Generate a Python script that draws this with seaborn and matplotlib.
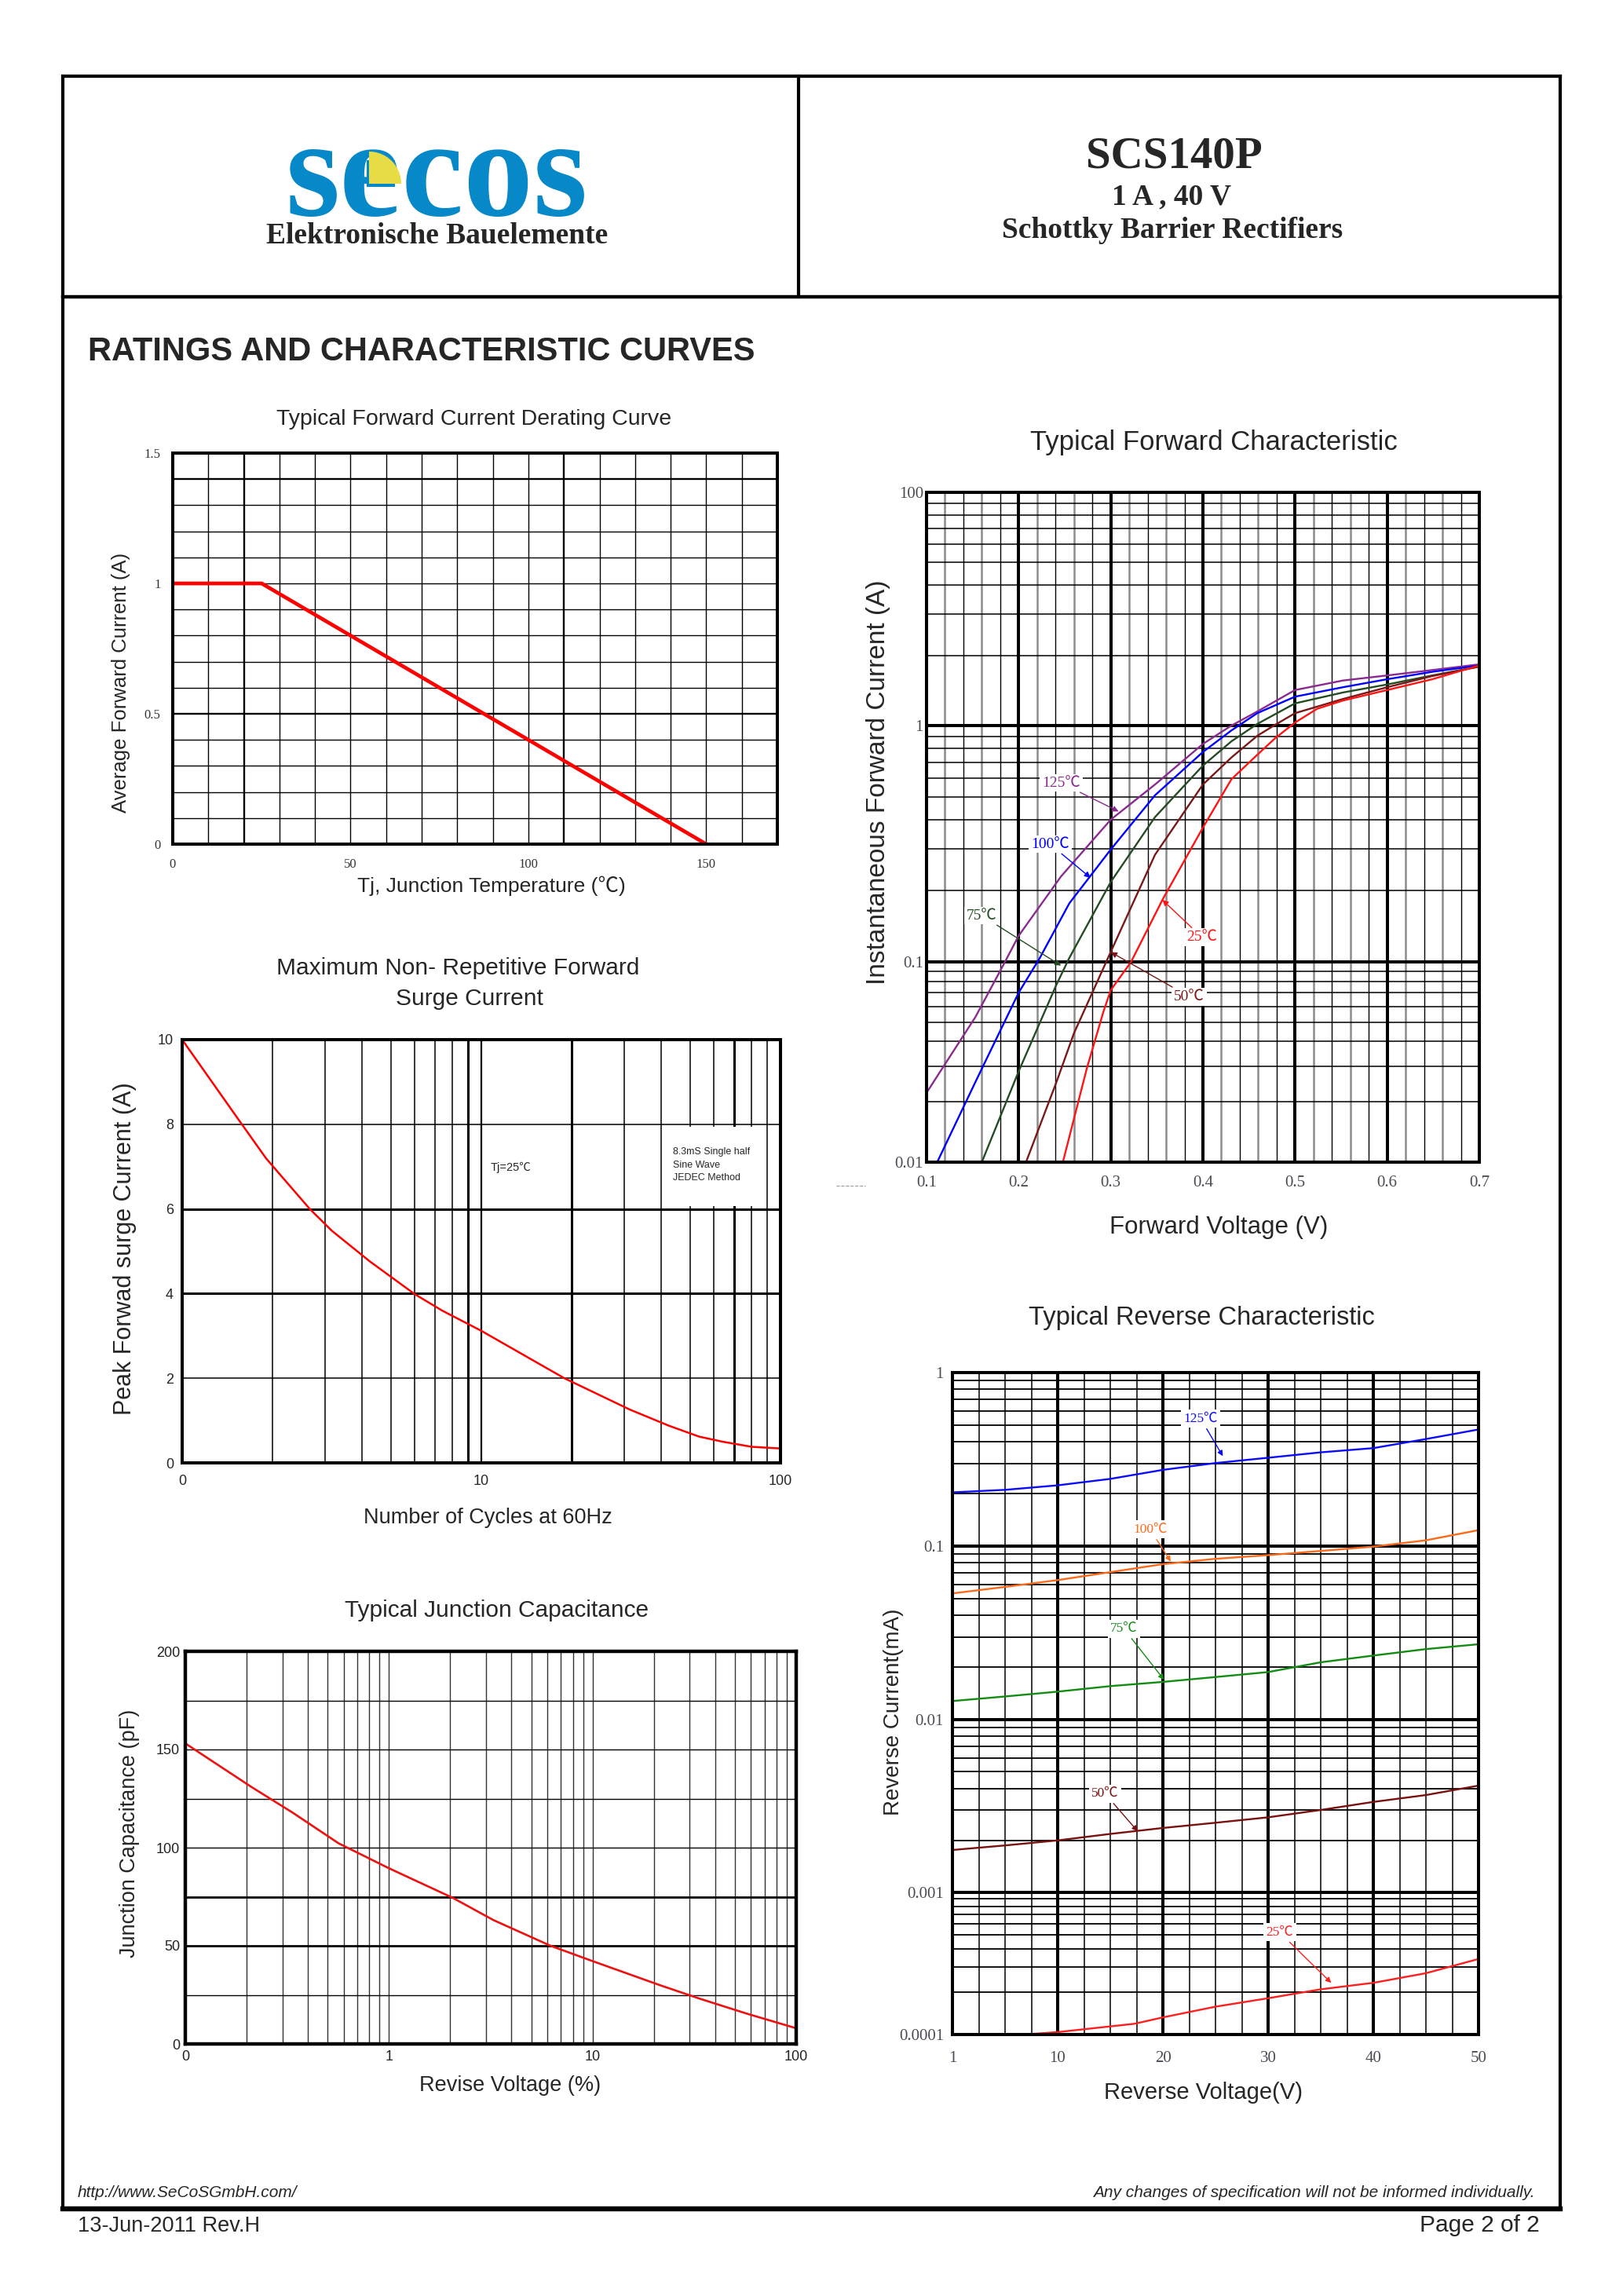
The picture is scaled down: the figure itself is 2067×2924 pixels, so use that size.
import numpy as np
import pandas as pd
import seaborn as sns
import matplotlib.pyplot as plt
from matplotlib.lines import Line2D
from matplotlib.patches import Rectangle, Wedge
from matplotlib.ticker import NullLocator, NullFormatter

# ---- data ----
derate_temp = [0, 25, 150]
derate_current = [1.0, 1.0, 0.0]

surge_cycles = [1.0, 1.54, 1.91, 2.67, 3.17, 4.24, 5.98, 7.39, 10.0, 18.95, 31.35, 42.3, 53.5, 64.1, 80.1, 100.0]
surge_current = [10.0, 8.12, 7.19, 6.0, 5.48, 4.76, 3.99, 3.6, 3.12, 2.0, 1.26, 0.88, 0.62, 0.5, 0.38, 0.34]

cap_voltage = [0.1, 0.212, 0.337, 0.566, 1.0, 2.06, 3.26, 6.22, 10.0, 21.2, 33.5, 57.8, 100.0]
cap_pf = [153.1, 130.8, 117.8, 102.2, 89.5, 74.4, 63.1, 50.0, 42.2, 30.1, 23.1, 15.3, 8.0]

fwd_v_125 = [0.100, 0.153, 0.183, 0.200, 0.246, 0.300, 0.348, 0.400, 0.431, 0.459, 0.500, 0.552, 0.600, 0.649, 0.700]
fwd_i_125 = [0.0222, 0.053, 0.0958, 0.129, 0.230, 0.40, 0.563, 0.836, 1.0, 1.149, 1.42, 1.56, 1.64, 1.73, 1.83]
fwd_v_100 = [0.1116, 0.153, 0.200, 0.223, 0.255, 0.300, 0.348, 0.400, 0.431, 0.459, 0.500, 0.552, 0.600, 0.649, 0.700]
fwd_i_100 = [0.01, 0.0251, 0.0702, 0.104, 0.177, 0.299, 0.507, 0.773, 0.954, 1.13, 1.33, 1.46, 1.58, 1.70, 1.81]
fwd_v_75 = [0.160, 0.200, 0.241, 0.255, 0.300, 0.348, 0.400, 0.431, 0.459, 0.500, 0.552, 0.600, 0.649, 0.700]
fwd_i_75 = [0.01, 0.0284, 0.077, 0.104, 0.218, 0.41, 0.677, 0.858, 1.016, 1.245, 1.386, 1.50, 1.64, 1.79]
fwd_v_50 = [0.208, 0.241, 0.260, 0.297, 0.348, 0.400, 0.431, 0.459, 0.478, 0.500, 0.552, 0.600, 0.649, 0.700]
fwd_i_50 = [0.01, 0.0251, 0.044, 0.104, 0.284, 0.563, 0.733, 0.905, 1.005, 1.13, 1.30, 1.46, 1.63, 1.79]
fwd_v_25 = [0.248, 0.274, 0.292, 0.300, 0.322, 0.357, 0.400, 0.431, 0.459, 0.478, 0.500, 0.524, 0.552, 0.600, 0.649, 0.700]
fwd_i_25 = [0.01, 0.0294, 0.0564, 0.0723, 0.1, 0.186, 0.37, 0.593, 0.752, 0.881, 1.03, 1.18, 1.28, 1.42, 1.58, 1.81]

rev_v = [0, 5, 10, 15, 20, 25, 30, 35, 40, 45, 50]
rev_i_125 = [0.204, 0.211, 0.224, 0.244, 0.275, 0.301, 0.323, 0.347, 0.367, 0.414, 0.47]
rev_i_100 = [0.0534, 0.0582, 0.0637, 0.0708, 0.0787, 0.0845, 0.0887, 0.0938, 0.0993, 0.108, 0.1236]
rev_i_75 = [0.0128, 0.0136, 0.0145, 0.0156, 0.0165, 0.0176, 0.0188, 0.0214, 0.0234, 0.0255, 0.0272]
rev_i_50 = [0.00176, 0.00187, 0.0020, 0.00218, 0.00236, 0.00253, 0.00272, 0.0030, 0.00334, 0.00366, 0.00415]
rev_v_25 = [6.8, 10, 17.3, 20, 25, 30, 35, 40, 45, 50]
rev_i_25 = [0.0001, 0.000104, 0.000119, 0.000132, 0.000157, 0.00018, 0.000208, 0.000231, 0.00027, 0.00034]

temps = ['125℃', '100℃', '75℃', '50℃', '25℃']

derate_xticks = [0, 50, 100, 150]
derate_yticks = [0, 0.5, 1, 1.5]
derate_ylabels = ['0', '0.5', '1', '1.5']
surge_xticks = [1, 10, 100]
surge_xlabels = ['0', '10', '100']
surge_yticks = [0, 2, 4, 6, 8, 10]
cap_xticks = [0.1, 1, 10, 100]
cap_xlabels = ['0', '1', '10', '100']
cap_yticks = [0, 50, 100, 150, 200]
fwd_xticks = [0.1, 0.2, 0.3, 0.4, 0.5, 0.6, 0.7]
fwd_yticks = [0.01, 0.1, 1, 10]
fwd_ylabels = ['0.01', '0.1', '1', '100']
rev_xticks = [0, 10, 20, 30, 40, 50]
rev_xlabels = ['1', '10', '20', '30', '40', '50']
rev_yticks = [0.0001, 0.001, 0.01, 0.1, 1]
rev_ylabels = ['0.0001', '0.001', '0.01', '0.1', '1']

fwd_df = pd.concat([
    pd.DataFrame({'V': v, 'I': i, 'T': t})
    for v, i, t in zip([fwd_v_125, fwd_v_100, fwd_v_75, fwd_v_50, fwd_v_25],
                       [fwd_i_125, fwd_i_100, fwd_i_75, fwd_i_50, fwd_i_25], temps)
])
rev_df = pd.concat([
    pd.DataFrame({'V': v, 'I': i, 'T': t})
    for v, i, t in zip([rev_v, rev_v, rev_v, rev_v, rev_v_25],
                       [rev_i_125, rev_i_100, rev_i_75, rev_i_50, rev_i_25], temps)
])

sns.set_theme(style='white')
SANS = ['Liberation Sans', 'Noto Sans CJK SC']
SERIF = ['Liberation Serif', 'Noto Sans CJK SC']
plt.rcParams['font.family'] = SANS

W, H = 2067, 2924
fig = plt.figure(figsize=(W / 100, H / 100), dpi=100)
fig.patch.set_facecolor('white')


def fx(px):
    return px / W


def fy(py):
    return 1 - py / H


def add_ax(l, t, r, b):
    return fig.add_axes([l / W, 1 - b / H, (r - l) / W, (b - t) / H])


def frame(ax, lw=2.9):
    for s in ax.spines.values():
        s.set_visible(True)
        s.set_linewidth(lw)
        s.set_color('black')
        s.set_zorder(6)


def vl(ax, xs, lw, color='black'):
    for x in xs:
        ax.axvline(x, color=color, lw=lw, zorder=1)


def hl(ax, ys, lw, color='black'):
    for y in ys:
        ax.axhline(y, color=color, lw=lw, zorder=1)


def piecewise_log(levels, pos):
    # log axis whose decades are not all the same height, as on the datasheet
    levels = np.asarray(levels, float)
    pos = np.asarray(pos, float)

    def seg(x, xs, ys):
        x = np.asarray(x, float)
        y = np.interp(x, xs, ys)
        y = np.where(x < xs[0], ys[0] + (x - xs[0]) * (ys[1] - ys[0]) / (xs[1] - xs[0]), y)
        y = np.where(x > xs[-1], ys[-1] + (x - xs[-1]) * (ys[-1] - ys[-2]) / (xs[-1] - xs[-2]), y)
        return y

    def forward(v):
        v = np.asarray(v, float)
        with np.errstate(divide='ignore', invalid='ignore'):
            lv = np.log10(np.where(v > 0, v, 1e-300))
        return seg(lv, levels, pos)

    def inverse(p):
        return 10 ** seg(p, pos, levels)

    return forward, inverse


def line(x0, y0, x1, y1, lw, color='black', ls='-'):
    fig.add_artist(Line2D([fx(x0), fx(x1)], [fy(y0), fy(y1)], transform=fig.transFigure,
                          color=color, lw=lw, ls=ls, solid_capstyle='projecting'))


# ---- page frame and header ----
line(80, 97, 1987, 97, 3.0)
line(80, 97, 80, 2813, 3.0)
line(1987, 97, 1987, 2813, 3.0)
line(80, 2813, 1987, 2813, 4.6)
line(80, 378, 1987, 378, 3.2)
line(1017, 97, 1017, 378, 3.0)

fig.text(fx(556), fy(274), 'secos', fontsize=128, family='Liberation Serif', weight='bold',
         color='#0788c8', ha='center', va='baseline')
fig.add_artist(Rectangle((4.67, (H - 238) / 100), 0.36, 0.34, transform=fig.dpi_scale_trans,
                         fc='#0788c8', ec='none', zorder=4))
fig.add_artist(Wedge((4.70, (H - 234) / 100), 0.41, 0, 90, transform=fig.dpi_scale_trans,
                     fc='#e8dc46', ec='none', zorder=5))
fig.text(fx(557), fy(310), 'Elektronische Bauelemente', fontsize=27, family='Liberation Serif',
         weight='bold', ha='center', va='baseline')
fig.text(fx(1495), fy(213), 'SCS140P', fontsize=41, family='Liberation Serif', weight='bold',
         ha='center', va='baseline')
fig.text(fx(1492), fy(260), '1 A , 40 V', fontsize=27, family='Liberation Serif', weight='bold',
         ha='center', va='baseline')
fig.text(fx(1493), fy(303), 'Schottky Barrier Rectifiers', fontsize=27, family='Liberation Serif',
         weight='bold', ha='center', va='baseline')

fig.text(fx(112), fy(459), 'RATINGS AND CHARACTERISTIC CURVES', fontsize=30, weight='bold',
         ha='left', va='baseline')

# ---- derating curve ----
ax1 = add_ax(220, 577, 990, 1075)
vl(ax1, [x for x in range(10, 170, 10) if x not in (20, 110)], 1.0)
vl(ax1, [20, 110], 1.7)
hl(ax1, [round(0.1 * k, 1) for k in range(1, 15) if k not in (5, 14)], 1.0)
hl(ax1, [0.5, 1.4], 1.7)
sns.lineplot(x=derate_temp, y=derate_current, color='#ff0000', lw=3.4, ax=ax1, zorder=3)
ax1.set_xlim(0, 170)
ax1.set_ylim(0, 1.5)
ax1.set_xticks(derate_xticks)
ax1.set_xticklabels([str(t) for t in derate_xticks], fontsize=12, family='Liberation Serif', color='#333333')
ax1.set_yticks(derate_yticks)
ax1.set_yticklabels(derate_ylabels, fontsize=12, family='Liberation Serif', color='#333333')
ax1.tick_params(length=0)
ax1.tick_params(axis='x', pad=13)
ax1.tick_params(axis='y', pad=11)
frame(ax1)
fig.text(fx(604), fy(534), 'Typical Forward Current Derating Curve', fontsize=20.5, ha='center', va='center')
fig.text(fx(154), fy(869), 'Average Forward Current (A)', fontsize=18.5, rotation=90, ha='center', va='center')
fig.text(fx(626), fy(1128), 'Tj, Junction Temperature (℃)', fontsize=19, ha='center', va='center', family=SANS)

# ---- surge current ----
ax2 = add_ax(232, 1324, 994, 1863)
ax2.set_xscale('log')
minor_s = [k * 10 ** d for d in (0, 1) for k in range(2, 10)]
vl(ax2, [m for m in minor_s if m not in (9, 20, 70)], 1.1)
vl(ax2, [9, 20, 70], 2.2)
vl(ax2, [10], 1.6)
hl(ax2, [2, 8], 1.1)
hl(ax2, [4, 6], 2.2)
ax2.add_patch(Rectangle((40.6, 6.06), 89.2 - 40.6, 1.88, fc='white', ec='none', zorder=2))
sns.lineplot(x=surge_cycles, y=surge_current, color='#ff0000', lw=1.8, ax=ax2, zorder=3)
ax2.set_xlim(1, 100)
ax2.set_ylim(0, 10)
ax2.set_xticks(surge_xticks)
ax2.set_xticklabels(surge_xlabels, fontsize=13)
ax2.xaxis.set_minor_locator(NullLocator())
ax2.xaxis.set_minor_formatter(NullFormatter())
ax2.set_yticks(surge_yticks)
ax2.set_yticklabels([str(t) for t in surge_yticks], fontsize=13)
ax2.tick_params(length=0)
ax2.tick_params(axis='x', pad=11)
ax2.tick_params(axis='y', pad=8)
frame(ax2)
ax2.text(10.7, 6.97, 'Tj=25℃', fontsize=10.5, ha='left', va='center', family=SANS, zorder=4)
ax2.text(43.8, 7.04, '8.3mS Single half\nSine Wave\nJEDEC Method', fontsize=9, ha='left', va='center',
         linespacing=1.55, zorder=4)
fig.text(fx(583), fy(1233), 'Maximum Non- Repetitive Forward', fontsize=21.5, ha='center', va='center')
fig.text(fx(598), fy(1272), 'Surge Current', fontsize=21.5, ha='center', va='center')
fig.text(fx(159), fy(1590), 'Peak Forwad surge Current (A)', fontsize=22, rotation=90, ha='center', va='center')
fig.text(fx(621), fy(1933), 'Number of Cycles at 60Hz', fontsize=19.5, ha='center', va='center')

# ---- junction capacitance ----
ax3 = add_ax(236, 2103, 1014, 2603)
ax3.set_xscale('log')
minor_c = [k * 10 ** d for d in (-1, 0, 1) for k in range(2, 10)] + [1, 10]
vl(ax3, minor_c, 1.0, '#333333')
hl(ax3, [25, 100, 125, 150, 175], 1.0)
hl(ax3, [50, 75], 2.0)
sns.lineplot(x=cap_voltage, y=cap_pf, color='#ee1111', lw=1.9, ax=ax3, zorder=3)
ax3.set_xlim(0.1, 100)
ax3.set_ylim(0, 200)
ax3.set_xticks(cap_xticks)
ax3.set_xticklabels(cap_xlabels, fontsize=13, color='#222222')
ax3.xaxis.set_minor_locator(NullLocator())
ax3.xaxis.set_minor_formatter(NullFormatter())
ax3.set_yticks(cap_yticks)
ax3.set_yticklabels([str(t) for t in cap_yticks], fontsize=13, color='#222222')
ax3.tick_params(length=0)
ax3.tick_params(axis='x', pad=6)
ax3.tick_params(axis='y', pad=5)
frame(ax3, 3.2)
fig.text(fx(633), fy(2051), 'Typical Junction Capacitance', fontsize=21.5, ha='center', va='center')
fig.text(fx(165), fy(2335), 'Junction Capacitance (pF)', fontsize=19.5, rotation=90, ha='center', va='center')
fig.text(fx(650), fy(2656), 'Revise Voltage (%)', fontsize=19.5, ha='center', va='center')

# ---- forward characteristic ----
fwd_colors = {'125℃': '#8a2a90', '100℃': '#0000ff', '75℃': '#244c24', '50℃': '#7a1818', '25℃': '#ff1414'}
ax4 = add_ax(1180, 627, 1884, 1480)
sns.lineplot(data=fwd_df, x='V', y='I', hue='T', palette=fwd_colors, lw=1.7, legend=False,
             errorbar=None, ax=ax4, zorder=3)
f4, i4 = piecewise_log([-2, -1, 0, 1], [0, 255, 556, 853])
ax4.set_yscale('function', functions=(f4, i4))
ax4.set_xlim(0.1, 0.7)
ax4.set_ylim(0.01, 10)
fine_v = [round(0.1 + 0.02 * k, 2) for k in range(1, 30) if k % 5]
vl(ax4, [v for k, v in enumerate(fine_v) if k % 2 == 0], 1.8, '#8c8c8c')
vl(ax4, [v for k, v in enumerate(fine_v) if k % 2 == 1], 1.0)
vl(ax4, [0.2, 0.3, 0.4, 0.5, 0.6], 2.9)
hl(ax4, [k * 10 ** d for d in (-2, -1, 0) for k in range(2, 10)], 1.1)
hl(ax4, [0.1, 1], 2.9)
ax4.set_xticks(fwd_xticks)
ax4.set_xticklabels([f'{t:.1f}' for t in fwd_xticks], fontsize=15, family='Liberation Serif', color='#4a4a55')
ax4.set_yticks(fwd_yticks)
ax4.set_yticklabels(fwd_ylabels, fontsize=15, family='Liberation Serif', color='#4a4a55')
ax4.yaxis.set_minor_locator(NullLocator())
ax4.set_xlabel('')
ax4.set_ylabel('')
ax4.tick_params(length=0)
ax4.tick_params(axis='x', pad=12)
ax4.tick_params(axis='y', pad=3)
frame(ax4)
fwd_notes = [('125℃', (0.3085, 0.433), (0.246, 0.572)),
             ('100℃', (0.278, 0.227), (0.234, 0.315)),
             ('75℃', (0.246, 0.0958), (0.160, 0.157)),
             ('25℃', (0.356, 0.183), (0.399, 0.127)),
             ('50℃', (0.300, 0.110), (0.385, 0.0671))]
for name, tip, txt in fwd_notes:
    c = fwd_colors[name]
    ax4.annotate(name, xy=tip, xytext=txt, fontsize=14, family=SERIF, color=c, ha='center', va='center',
                 bbox=dict(boxstyle='square,pad=0.15', fc='white', ec='none'),
                 arrowprops=dict(arrowstyle='-|>', color=c, lw=1.0, mutation_scale=11, shrinkA=1, shrinkB=0),
                 zorder=5)
fig.text(fx(1546), fy(563), 'Typical Forward Characteristic', fontsize=25, ha='center', va='center')
fig.text(fx(1119), fy(996), 'Instantaneous Forward Current (A)', fontsize=24, rotation=90, ha='center', va='center')
fig.text(fx(1552), fy(1563), 'Forward Voltage (V)', fontsize=22.5, ha='center', va='center')
line(1065, 1510, 1102, 1510, 0.8, '#999999', '--')

# ---- reverse characteristic ----
rev_colors = {'125℃': '#0a0aff', '100℃': '#ff6a1a', '75℃': '#128c12', '50℃': '#7a1010', '25℃': '#ff1f1f'}
ax5 = add_ax(1213, 1748, 1883, 2591)
sns.lineplot(data=rev_df, x='V', y='I', hue='T', palette=rev_colors, lw=1.7, legend=False,
             errorbar=None, ax=ax5, zorder=3)
f5, i5 = piecewise_log([-4, -3, -2, -1, 0], [0, 181, 401, 622, 843])
ax5.set_yscale('function', functions=(f5, i5))
ax5.set_xlim(0, 50)
ax5.set_ylim(0.0001, 1)
vl(ax5, [2.5 * k for k in range(1, 20) if k % 4], 1.1)
vl(ax5, [10, 20, 30, 40], 2.9)
hl(ax5, [k * 10 ** d for d in (-4, -3, -2, -1) for k in range(2, 10)], 1.3)
hl(ax5, [0.001, 0.01, 0.1], 2.9)
ax5.set_xticks(rev_xticks)
ax5.set_xticklabels(rev_xlabels, fontsize=15, family='Liberation Serif', color='#4a4a55')
ax5.set_yticks(rev_yticks)
ax5.set_yticklabels(rev_ylabels, fontsize=15, family='Liberation Serif', color='#4a4a55')
ax5.yaxis.set_minor_locator(NullLocator())
ax5.set_xlabel('')
ax5.set_ylabel('')
ax5.tick_params(length=0)
ax5.tick_params(axis='x', pad=15)
ax5.tick_params(axis='y', pad=8)
frame(ax5)
rev_notes = [('125℃', (25.7, 0.33), (23.6, 0.541)),
             ('100℃', (20.75, 0.0815), (18.8, 0.1245)),
             ('75℃', (20.1, 0.017), (16.3, 0.0334)),
             ('50℃', (17.6, 0.00226), (14.5, 0.00373)),
             ('25℃', (36.0, 0.000231), (31.1, 0.000523))]
for name, tip, txt in rev_notes:
    c = rev_colors[name]
    ax5.annotate(name, xy=tip, xytext=txt, fontsize=12.5, family=SERIF, color=c, ha='center', va='center',
                 bbox=dict(boxstyle='square,pad=0.2', fc='white', ec='none'),
                 arrowprops=dict(arrowstyle='-|>', color=c, lw=1.0, mutation_scale=10, shrinkA=1, shrinkB=0),
                 zorder=5)
fig.text(fx(1530), fy(1678), 'Typical Reverse Characteristic', fontsize=23.5, ha='center', va='center')
fig.text(fx(1138), fy(2180), 'Reverse Current(mA)', fontsize=20, rotation=90, ha='center', va='center')
fig.text(fx(1532), fy(2665), 'Reverse Voltage(V)', fontsize=21, ha='center', va='center')

# ---- footer ----
fig.text(fx(99), fy(2798), 'http://www.SeCoSGmbH.com/', fontsize=15, style='italic', ha='left', va='baseline')
fig.text(fx(1955), fy(2798), 'Any changes of specification will not be informed individually.', fontsize=15,
         style='italic', ha='right', va='baseline')
fig.text(fx(99), fy(2842), '13-Jun-2011 Rev.H', fontsize=19.5, ha='left', va='baseline')
fig.text(fx(1961), fy(2842), 'Page 2 of 2', fontsize=21.5, ha='right', va='baseline')

fig.savefig('out.png', dpi=100, facecolor='white')
